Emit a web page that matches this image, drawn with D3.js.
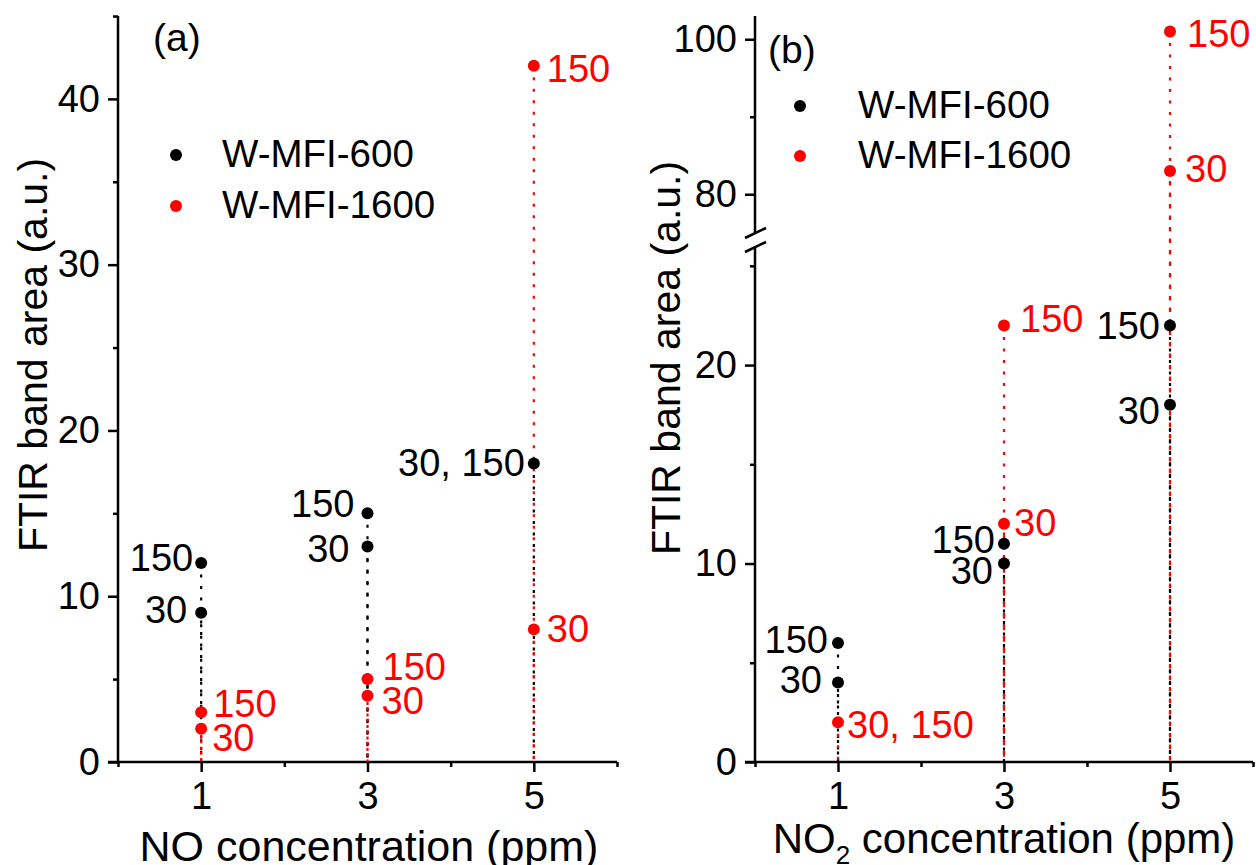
<!DOCTYPE html>
<html>
<head>
<meta charset="utf-8">
<script src="https://cdn.jsdelivr.net/npm/d3@7"></script>
<style>
  html, body { margin: 0; padding: 0; background: #fff; }
  svg { display: block; font-family: "Liberation Sans", Arial, sans-serif; }
</style>
</head>
<body>
<svg id="chart" width="1256" height="865"></svg>
<script>
// ---------- data ----------
const xMajorTicks = [1, 3, 5];
const xMinorTicks = [0, 2, 4, 6];
const seriesNames = ["W-MFI-600", "W-MFI-1600"];

// Panel (a): NO
const aX600 = [1, 1, 3, 3, 5];
const aY600 = [12, 9, 15, 13, 18];
const aL600 = ["150", "30", "150", "30", "30, 150"];
const aX1600 = [1, 1, 3, 3, 5, 5];
const aY1600 = [3, 2, 5, 4, 42, 8];
const aL1600 = ["150", "30", "150", "30", "150", "30"];
const aYMajor = [0, 10, 20, 30, 40];
const aYMinor = [5, 15, 25, 35, 45];

// Panel (b): NO2 (broken y axis)
const bX600 = [1, 1, 3, 3, 5, 5];
const bY600 = [6, 4, 11, 10, 22, 18];
const bL600 = ["150", "30", "150", "30", "150", "30"];
const bX1600 = [1, 3, 3, 5, 5];
const bY1600 = [2, 22, 12, 101, 83];
const bL1600 = ["30, 150", "150", "30", "150", "30"];
const bYMajorLow = [0, 10, 20];
const bYMinorLow = [5, 15, 25];
const bYMajorUp = [80, 100];
const bYMinorUp = [90];

// ---------- layout (label nudges in px) ----------
const aN600 = [[-8, 8], [-14, 10], [-13, 4], [-18, 16], [-9, 12]];
const aN1600 = [[12, 5], [11, 22], [15, 1], [14, 18], [13, 16], [13, 13]];
const bN600 = [[-10, 10], [-16, 10], [-9, 9], [-11, 20], [-10, 14], [-10, 19]];
const bN1600 = [[9, 16], [16, 7], [10, 12], [17, 15], [15, 11]];

const RED = "#ff0000", BLACK = "#000000";
const FONT_TICK = 38, FONT_TITLE = 43, FONT_LABEL = 38;
const DASH = "3,8.5";
const R = 6;

const svg = d3.select("#chart");

function drawXAxis(g, x, y0) {
  g.append("g").attr("transform", `translate(0,${y0})`)
    .call(d3.axisBottom(x).tickValues(xMajorTicks).tickSize(10).tickPadding(10).tickFormat(d3.format("d")))
    .call(s => { s.select(".domain").remove(); });
  g.append("g").attr("transform", `translate(0,${y0})`)
    .call(d3.axisBottom(x).tickValues(xMinorTicks).tickSize(5).tickFormat(""))
    .call(s => s.select(".domain").remove());
  g.append("line").attr("x1", x.range()[0] - 10).attr("x2", x.range()[1])
    .attr("y1", y0).attr("y2", y0).attr("stroke", "#000").attr("stroke-width", 2.5);
}

function drawYAxis(g, y, x0, major, minor) {
  g.append("g").attr("transform", `translate(${x0},0)`)
    .call(d3.axisLeft(y).tickValues(major).tickSize(10).tickPadding(8).tickFormat(d3.format("d")))
    .call(s => s.select(".domain").remove());
  g.append("g").attr("transform", `translate(${x0},0)`)
    .call(d3.axisLeft(y).tickValues(minor).tickSize(5).tickFormat(""))
    .call(s => s.select(".domain").remove());
  g.append("line").attr("x1", x0).attr("x2", x0)
    .attr("y1", y.range()[0]).attr("y2", y.range()[1])
    .attr("stroke", "#000").attr("stroke-width", 2.5);
}

function styleAxes(g) {
  g.selectAll(".tick line").attr("stroke", "#000").attr("stroke-width", 2.5);
  g.selectAll(".tick text").attr("font-size", FONT_TICK).attr("fill", "#000")
    .attr("font-family", '"Liberation Sans", Arial, sans-serif');
}

function drawSeries(g, x, yf, xs, ys, labels, nudges, color, anchor) {
  // drop lines
  g.append("g").selectAll("line").data(xs).join("line")
    .attr("x1", (d) => x(d)).attr("x2", (d) => x(d))
    .attr("y1", (d, i) => yf(ys[i])).attr("y2", yf(0))
    .attr("stroke", color).attr("stroke-width", 2.2)
    .attr("stroke-dasharray", DASH);
  return () => {
    g.append("g").selectAll("circle").data(xs).join("circle")
      .attr("cx", (d) => x(d)).attr("cy", (d, i) => yf(ys[i]))
      .attr("r", R).attr("fill", color);
    g.append("g").selectAll("text").data(xs).join("text")
      .attr("x", (d, i) => x(d) + nudges[i][0])
      .attr("y", (d, i) => yf(ys[i]) + nudges[i][1])
      .attr("text-anchor", anchor)
      .attr("font-size", FONT_LABEL).attr("fill", color)
      .text((d, i) => labels[i]);
  };
}

function drawLegend(g, x, y1, y2, tx) {
  [[y1, BLACK, seriesNames[0]], [y2, RED, seriesNames[1]]].forEach(([yy, c, name]) => {
    g.append("circle").attr("cx", x).attr("cy", yy).attr("r", R).attr("fill", c);
    g.append("text").attr("x", tx).attr("y", yy + 12).attr("font-size", 38.5)
      .attr("fill", "#000").text(name);
  });
}

// ---------- Panel (a) ----------
{
  const g = svg.append("g");
  const x = d3.scaleLinear().domain([0, 6]).range([118, 617]);
  const y = d3.scaleLinear().domain([0, 45]).range([762, 16]);
  drawXAxis(g, x, 762);
  drawYAxis(g, y, 118, aYMajor, aYMinor);
  styleAxes(g);
  const p1 = drawSeries(g, x, y, aX600, aY600, aL600, aN600, BLACK, "end");
  const p2 = drawSeries(g, x, y, aX1600, aY1600, aL1600, aN1600, RED, "start");
  p1(); p2();
  drawLegend(g, 176, 155, 206, 222);
  g.append("text").attr("x", 153).attr("y", 51).attr("font-size", 39).text("(a)");
  g.append("text").attr("x", 369).attr("y", 861).attr("text-anchor", "middle")
    .attr("font-size", FONT_TITLE).text("NO concentration (ppm)");
  g.append("text").attr("transform", "translate(47,355) rotate(-90)")
    .attr("text-anchor", "middle").attr("font-size", 41).text("FTIR band area (a.u.)");
}

// ---------- Panel (b) ----------
{
  const g = svg.append("g");
  const x = d3.scaleLinear().domain([0, 6]).range([755, 1253]);
  const yLow = d3.scaleLinear().domain([0, 26]).range([762, 246]);
  const yUp = d3.scaleLinear().domain([75, 103]).range([233, 16]);
  const yf = (v) => (v > 26 ? yUp(v) : yLow(v));
  drawXAxis(g, x, 762);
  drawYAxis(g, yLow, 755, bYMajorLow, bYMinorLow);
  drawYAxis(g, yUp, 755, bYMajorUp, bYMinorUp);
  styleAxes(g);
  // break marks
  [233, 247].forEach(yb => {
    g.append("line").attr("x1", 745).attr("x2", 766)
      .attr("y1", yb + 5).attr("y2", yb - 5)
      .attr("stroke", "#000").attr("stroke-width", 2.5);
  });
  const p1 = drawSeries(g, x, yf, bX600, bY600, bL600, bN600, BLACK, "end");
  const p2 = drawSeries(g, x, yf, bX1600, bY1600, bL1600, bN1600, RED, "start");
  p1(); p2();
  drawLegend(g, 800, 106, 156, 858);
  g.append("text").attr("x", 768).attr("y", 63).attr("font-size", 39).text("(b)");
  const t = g.append("text").attr("x", 1004).attr("y", 853).attr("text-anchor", "middle")
    .attr("font-size", 42);
  t.append("tspan").text("NO");
  t.append("tspan").attr("font-size", 26).attr("dy", 11).text("2");
  t.append("tspan").attr("dy", -11).text(" concentration (ppm)");
  g.append("text").attr("transform", "translate(680,358) rotate(-90)")
    .attr("text-anchor", "middle").attr("font-size", 41).text("FTIR band area (a.u.)");
}
</script>
</body>
</html>
